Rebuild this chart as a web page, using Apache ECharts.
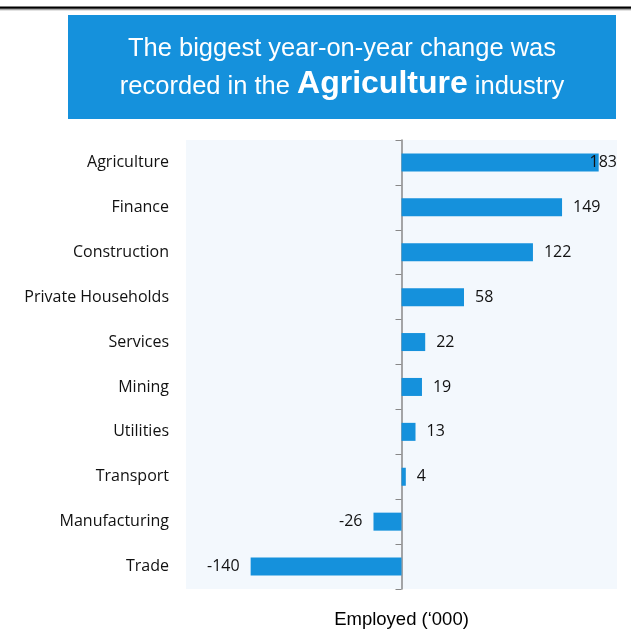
<!DOCTYPE html>
<html>
<head>
<meta charset="utf-8">
<script src="https://cdn.jsdelivr.net/npm/echarts@6/dist/echarts.min.js"></script>
<style>html,body{margin:0;padding:0;background:#fff;}#c{width:631px;height:629px;}</style>
</head>
<body>
<div id="c"></div>
<script>
const categories = ['Agriculture','Finance','Construction','Private Households','Services','Mining','Utilities','Transport','Manufacturing','Trade'];
const values = [183, 149, 122, 58, 22, 19, 13, 4, -26, -140];
const axisName = "Employed (\u2018000)";
const titleLine1 = 'The biggest year-on-year change was';
const titleLine2a = 'recorded in the ';
const titleLine2b = 'Agriculture';
const titleLine2c = ' industry';

const chart = echarts.init(document.getElementById('c'), null, {renderer: 'canvas'});
const GRID = {left: 186, right: 14, top: 140, bottom: 40};
const gridRight = 631 - GRID.right;

const data = values.map(v => ({
  value: v,
  label: {position: v >= 0 ? 'right' : 'left'}
}));

chart.setOption({
  animation: false,
  backgroundColor: '#ffffff',
  grid: Object.assign({show: true, backgroundColor: '#f3f8fd', borderWidth: 0, containLabel: false, outerBoundsMode: 'none'}, GRID),
  graphic: [
    {type: 'rect', shape: {x: 0, y: 6.5, width: 631, height: 2.2}, style: {fill: '#000'}, z: 10},
    {type: 'rect', shape: {x: 0, y: 9.2, width: 631, height: 1}, style: {fill: '#8a8a8a'}, z: 10},
    {type: 'rect', shape: {x: 68, y: 15, width: 548, height: 104}, style: {fill: '#1591dc'}, z: 1},
    {type: 'text', x: 342, y: 49, z: 2,
      style: {text: titleLine1, fill: '#fff', font: '25.5px "Liberation Sans", Arial, sans-serif', align: 'center', verticalAlign: 'middle'}},
    {type: 'text', x: 342, y: 84, z: 2,
      style: {
        text: '{a|' + titleLine2a + '}{b|' + titleLine2b + '}{a|' + titleLine2c + '}',
        align: 'center', verticalAlign: 'middle',
        rich: {
          a: {fill: '#fff', font: '25.5px "Liberation Sans", Arial, sans-serif', verticalAlign: 'bottom'},
          b: {fill: '#fff', font: 'bold 32px "Liberation Sans", Arial, sans-serif', verticalAlign: 'bottom'}
        }
      }}
  ],
  xAxis: {
    type: 'value', min: -200, max: 200, interval: 100,
    axisLine: {show: false}, axisTick: {show: false}, axisLabel: {show: false}, splitLine: {show: false},
    name: axisName, nameLocation: 'middle', nameGap: 21,
    nameTextStyle: {fontFamily: '"Liberation Sans", Arial, sans-serif', fontSize: 18.5, color: '#000'}
  },
  yAxis: [{
    type: 'category', data: categories, inverse: true, position: 'left',
    axisLine: {show: false, onZero: false}, axisTick: {show: false},
    axisLabel: {margin: 17, fontFamily: '"Open Sans", "Noto Sans", sans-serif', fontSize: 16, color: '#111'},
    splitLine: {show: false}
  }, {
    type: 'category', data: categories, inverse: true, position: 'right',
    axisLine: {show: true, onZero: true, lineStyle: {color: '#888', width: 1.5}},
    axisTick: {show: true, inside: true, length: 6, lineStyle: {color: '#888', width: 1}},
    axisLabel: {show: false},
    splitLine: {show: false}
  }],
  series: [{
    type: 'bar', data: data, barWidth: 18, yAxisIndex: 0,
    itemStyle: {color: '#1591dc'},
    label: {show: true, distance: 11, fontFamily: '"Open Sans", "Noto Sans", sans-serif', fontSize: 16, color: '#111'},
    labelLayout: function (p) {
      const r = p.labelRect;
      const over = r.x + r.width - gridRight;
      return over > 0 ? {dx: -over} : {};
    }
  }]
});
</script>
</body>
</html>
